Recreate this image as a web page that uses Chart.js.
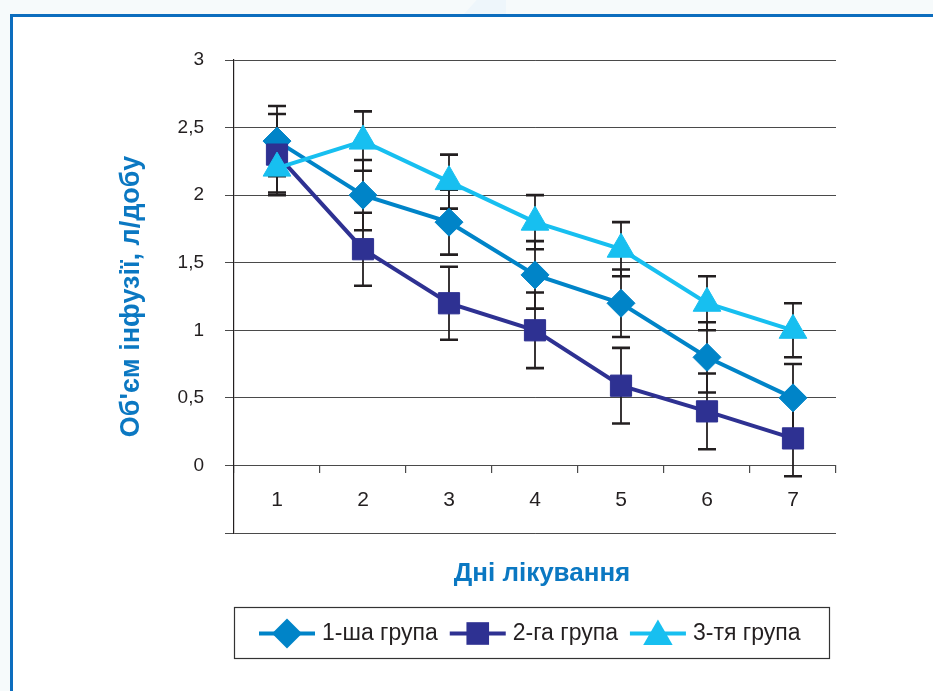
<!DOCTYPE html>
<html>
<head>
<meta charset="utf-8">
<script src="https://cdn.jsdelivr.net/npm/chart.js@4.4.1/dist/chart.umd.min.js"></script>
<style>
  html, body { margin: 0; padding: 0; }
  body { width: 933px; height: 691px; background: #f6fafb; position: relative; overflow: hidden; }
  #frame { position: absolute; left: 10px; top: 14px; width: 940px; height: 700px; background: #fff;
           border-left: 3px solid #0c6dbe; border-top: 3px solid #0c6dbe; }
  #tab { position: absolute; left: 464px; top: 0; width: 42px; height: 14px; background: #eef6fb;
         clip-path: polygon(30% 0, 100% 0, 100% 100%, 0 100%); }
  #wrap { position: absolute; left: 0; top: 0; width: 933px; height: 691px; }
</style>
</head>
<body>
<div id="tab"></div>
<div id="frame"></div>
<div id="wrap"><canvas id="myChart" width="933" height="691"></canvas></div>
<script>
// дані
const days = ["1", "2", "3", "4", "5", "6", "7"];
const seriesNames = ["1-ша група", "2-га група", "3-тя група"];
const group1 = [2.4, 2.0, 1.8, 1.41, 1.2, 0.8, 0.5];
const group2 = [2.3, 1.6, 1.2, 1.0, 0.59, 0.4, 0.2];
const group3 = [2.2, 2.4, 2.1, 1.8, 1.6, 1.2, 1.0];
const err1 = [0.26, 0.26, 0.24, 0.25, 0.25, 0.26, 0.25];
const err2 = [0.3, 0.27, 0.27, 0.28, 0.28, 0.28, 0.28];
const err3 = [0.18, 0.22, 0.2, 0.2, 0.2, 0.2, 0.2];
const yMin = -0.5, yMax = 3, yStep = 0.5;
const yTitle = "Об'єм інфузії, л/добу";
const xTitle = "Дні лікування";

const groups = [group1, group2, group3];
const errors = [err1, err2, err3];

// стилі
const colors = ["#0084c8", "#2e3192", "#17bff0"];
const shapes = ["rectRot", "rect", "triangle"];
const radii = [14, 15, 16];
const titleColor = "#0b78c2";
const FONT = "'Liberation Sans', Arial, sans-serif";

Chart.defaults.font.family = FONT;
Chart.defaults.color = "#231f20";

function drawMarker(ctx, shape, x, y, r) {
	ctx.beginPath();
	if (shape === "rectRot") {
		ctx.moveTo(x - r, y);
		ctx.lineTo(x, y - r);
		ctx.lineTo(x + r, y);
		ctx.lineTo(x, y + r);
	} else if (shape === "rect") {
		const s = r * Math.SQRT1_2;
		ctx.rect(x - s, y - s, 2 * s, 2 * s);
	} else {
		const a = Math.PI * 2 / 3;
		ctx.moveTo(x, y - r);
		ctx.lineTo(x + Math.sin(a) * r, y - Math.cos(a) * r);
		ctx.lineTo(x + Math.sin(2 * a) * r, y - Math.cos(2 * a) * r);
	}
	ctx.closePath();
	ctx.fill();
}

// планки похибок
const errorBars = {
	id: "errorBars",
	beforeDatasetsDraw(chart) {
		const { ctx, scales: { x, y } } = chart;
		ctx.save();
		ctx.strokeStyle = "#231f20";
		chart.data.datasets.forEach((ds, i) => {
			ds.data.forEach((v, j) => {
				const e = errors[i][j];
				const px = x.getPixelForValue(j);
				const top = y.getPixelForValue(v + e);
				const bot = y.getPixelForValue(v - e);
				ctx.lineWidth = 1.8;
				ctx.beginPath();
				ctx.moveTo(px, top);
				ctx.lineTo(px, bot);
				ctx.stroke();
				ctx.lineWidth = 2.6;
				ctx.beginPath();
				ctx.moveTo(px - 9, top);
				ctx.lineTo(px + 9, top);
				ctx.moveTo(px - 9, bot);
				ctx.lineTo(px + 9, bot);
				ctx.stroke();
			});
		});
		ctx.restore();
	}
};

// підпис осі X та легенда
const extras = {
	id: "extras",
	afterDraw(chart) {
		const { ctx, chartArea } = chart;
		ctx.save();
		ctx.fillStyle = titleColor;
		ctx.font = "bold 26px " + FONT;
		ctx.textAlign = "center";
		ctx.textBaseline = "middle";
		ctx.fillText(xTitle, chartArea.left + 308, chartArea.bottom + 41);

		const boxTop = chartArea.bottom + 74;
		const boxH = 51;
		ctx.strokeStyle = "#333";
		ctx.lineWidth = 1.2;
		ctx.strokeRect(chartArea.left + 0.5, boxTop + 0.5, 595, boxH);

		const cy = boxTop + boxH / 2 + 1;
		let lx = chartArea.left + 25;
		ctx.font = "23px " + FONT;
		ctx.textAlign = "left";
		chart.data.datasets.forEach((ds, i) => {
			ctx.strokeStyle = colors[i];
			ctx.fillStyle = colors[i];
			ctx.lineWidth = 4;
			ctx.beginPath();
			ctx.moveTo(lx, cy);
			ctx.lineTo(lx + 56, cy);
			ctx.stroke();
			drawMarker(ctx, shapes[i], lx + 28, cy + (shapes[i] === "triangle" ? 3 : 0), radii[i] + 1);
			ctx.fillStyle = "#231f20";
			ctx.fillText(ds.label, lx + 63, cy);
			lx += 63 + ctx.measureText(ds.label).width + 12;
		});
		ctx.restore();
	}
};

const ctx1 = document.getElementById("myChart").getContext("2d");

let myChart = new Chart(ctx1, {
	type: "line",
	data: {
		labels: days,
		datasets: groups.map((g, i) => ({
			label: seriesNames[i],
			data: g,
			borderColor: colors[i],
			backgroundColor: colors[i],
			borderWidth: 4,
			tension: 0,
			pointStyle: shapes[i],
			pointRadius: radii[i],
			pointHoverRadius: radii[i],
			pointBorderWidth: 1,
			pointBackgroundColor: colors[i],
			pointBorderColor: colors[i],
			order: 2 - i,
		})),
	},
	options: {
		responsive: false,
		devicePixelRatio: 1,
		animation: false,
		layout: {
			padding: { left: 115, right: 97, top: 60, bottom: 158 }
		},
		scales: {
			y: {
				min: yMin,
				max: yMax,
				afterFit(scale) { scale.width = 119; },
				ticks: {
					stepSize: yStep,
					padding: 21,
					color: "#231f20",
					font: { size: 19 },
					callback: (v) => (v < 0 ? "" : String(v).replace(".", ",")),
				},
				grid: {
					color: "#4a4a4a",
					lineWidth: 1,
					tickLength: 9,
				},
				border: { display: true, color: "#231f20", width: 1.2 },
				title: {
					display: true,
					text: yTitle,
					color: titleColor,
					font: { size: 27, weight: "bold" },
					padding: { top: 0, bottom: 30 },
				},
			},
			x: {
				position: { y: 0 },
				offset: true,
				ticks: {
					padding: 15,
					color: "#231f20",
					font: { size: 21 },
					maxRotation: 0,
				},
				grid: {
					offset: true,
					drawOnChartArea: false,
					drawTicks: true,
					tickLength: 7,
					color: "#4a4a4a",
					lineWidth: 1.2,
				},
				border: { display: true, color: "#4a4a4a", width: 1 },
			},
		},
		plugins: {
			legend: { display: false },
			tooltip: { enabled: false },
		},
	},
	plugins: [errorBars, extras],
});
</script>
</body>
</html>
